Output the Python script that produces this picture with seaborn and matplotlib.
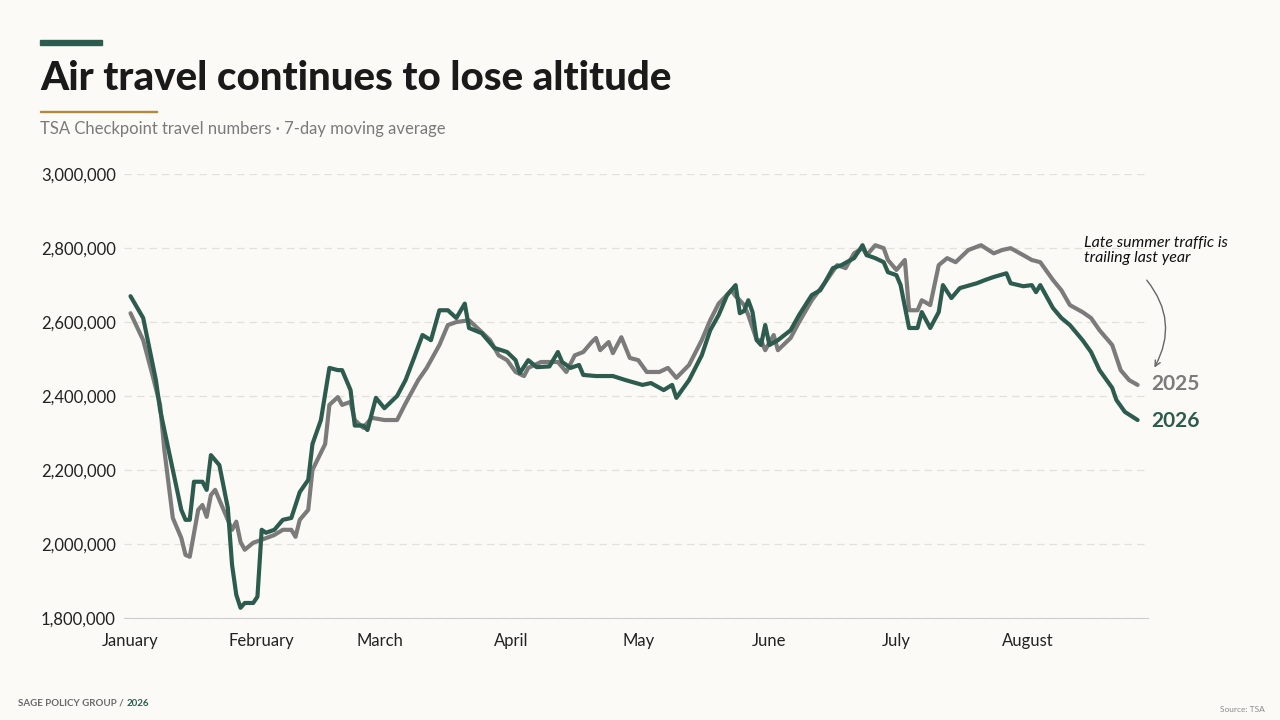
import pandas as pd
import matplotlib.pyplot as plt
import seaborn as sns
from matplotlib.patches import FancyArrowPatch

# days since Jan 1 and 7-day averages (thousands of travelers)
days_2026 = [0, 3, 6, 7, 10, 12, 13, 14, 15, 17, 18, 19, 21, 23, 24, 25, 26, 27, 29, 30,
             31, 32, 34, 36, 38, 40, 42, 43, 45, 47, 49, 50, 52, 53, 55, 56, 58, 60, 63, 65,
             67, 69, 71, 73, 75, 77, 79, 80, 83, 86, 89, 91, 92, 94, 96, 99, 101, 102, 104, 106,
             107, 110, 114, 117, 121, 123, 126, 128, 129, 132, 135, 137, 139, 141, 143, 144, 145, 146, 147, 148,
             149, 150, 151, 153, 156, 158, 161, 163, 164, 166, 168, 171, 173, 174, 176, 178, 179, 181, 182, 184,
             186, 187, 189, 191, 192, 194, 196, 200, 202, 204, 207, 208, 211, 213, 214, 215, 218, 220, 222, 225,
             227, 229, 232, 233, 235, 238]
vals_2026 = [2670, 2611, 2443, 2362, 2200, 2092, 2065, 2065, 2168, 2168, 2146, 2240, 2213, 2097, 1943, 1862, 1827, 1840, 1840, 1857,
             2038, 2030, 2038, 2065, 2070, 2140, 2173, 2270, 2335, 2476, 2470, 2470, 2416, 2320, 2320, 2308, 2395, 2367, 2400, 2443,
             2503, 2565, 2551, 2632, 2632, 2611, 2650, 2584, 2570, 2530, 2519, 2497, 2462, 2497, 2478, 2480, 2519, 2492, 2476, 2484,
             2457, 2454, 2454, 2443, 2430, 2435, 2416, 2430, 2395, 2443, 2510, 2578, 2619, 2673, 2700, 2624, 2630, 2659, 2627, 2551,
             2538, 2592, 2538, 2551, 2578, 2619, 2673, 2686, 2705, 2746, 2754, 2773, 2808, 2781, 2773, 2762, 2735, 2727, 2700, 2584,
             2584, 2627, 2584, 2627, 2700, 2665, 2692, 2705, 2714, 2722, 2732, 2705, 2697, 2700, 2681, 2700, 2638, 2611, 2592, 2551,
             2519, 2470, 2422, 2389, 2357, 2335]

days_2025 = [0, 3, 5, 7, 8, 10, 12, 13, 14, 16, 17, 18, 19, 20, 22, 24, 25, 26, 27, 29,
             31, 34, 36, 38, 39, 40, 42, 43, 46, 47, 49, 50, 52, 53, 55, 57, 60, 63, 65, 68,
             70, 73, 75, 77, 80, 83, 85, 87, 89, 91, 93, 94, 97, 99, 101, 103, 105, 107, 109, 110,
             111, 113, 114, 116, 118, 120, 122, 125, 127, 129, 132, 135, 137, 139, 142, 143, 144, 145, 146, 148,
             149, 150, 152, 153, 156, 158, 161, 164, 167, 169, 171, 173, 174, 176, 178, 179, 181, 183, 184, 186,
             187, 189, 191, 193, 195, 198, 201, 204, 206, 208, 211, 213, 215, 218, 220, 222, 225, 227, 229, 232,
             234, 236, 238]
vals_2025 = [2624, 2551, 2465, 2376, 2254, 2070, 2016, 1970, 1965, 2092, 2105, 2073, 2132, 2146, 2092, 2038, 2060, 2005, 1984, 2003,
             2011, 2024, 2038, 2038, 2019, 2065, 2092, 2200, 2270, 2376, 2397, 2376, 2384, 2335, 2314, 2341, 2335, 2335, 2380, 2443,
             2476, 2538, 2592, 2600, 2605, 2573, 2551, 2510, 2497, 2465, 2454, 2476, 2492, 2492, 2492, 2465, 2510, 2519, 2546, 2557,
             2524, 2546, 2516, 2559, 2503, 2497, 2465, 2465, 2476, 2449, 2484, 2551, 2605, 2650, 2686, 2670, 2659, 2646, 2619, 2551,
             2551, 2524, 2565, 2524, 2557, 2600, 2659, 2705, 2754, 2746, 2786, 2800, 2781, 2808, 2800, 2768, 2741, 2768, 2632, 2632,
             2659, 2646, 2754, 2773, 2762, 2795, 2808, 2786, 2795, 2800, 2781, 2768, 2762, 2714, 2686, 2646, 2627, 2611, 2578, 2538,
             2470, 2443, 2430]

month_names = ['January', 'February', 'March', 'April', 'May', 'June', 'July', 'August']

green = '#2d5c4f'
grey = '#7b7b7b'
bg = '#fbfaf7'

start = pd.Timestamp('2026-01-01')
df = pd.concat([
    pd.DataFrame({'date': start + pd.to_timedelta(days_2026, 'D'), 'travelers': [v * 1000 for v in vals_2026], 'year': '2026'}),
    pd.DataFrame({'date': start + pd.to_timedelta(days_2025, 'D'), 'travelers': [v * 1000 for v in vals_2025], 'year': '2025'}),
])

sns.set_style('white')
plt.rcParams['font.family'] = ['Lato', 'DejaVu Sans']

fig = plt.figure(figsize=(12.8, 7.2), dpi=100, facecolor=bg)
ax = fig.add_axes([0.097, 0.142, 0.800, 0.616], facecolor=bg)

sns.lineplot(data=df, x='date', y='travelers', hue='year', hue_order=['2025', '2026'],
             palette={'2025': grey, '2026': green}, linewidth=3.0, legend=False, ax=ax)

ax.set_ylim(1_800_000, 3_000_000)
ax.set_xlim(start - pd.Timedelta(days=1.5), start + pd.Timedelta(days=240.5))
ax.set_yticks(range(1_800_000, 3_000_001, 200_000))
ax.yaxis.set_major_formatter(plt.FuncFormatter(lambda v, p: f'{v:,.0f}'))
ax.grid(axis='y', linestyle=(0, (6, 4)), color='#e3e1dc', linewidth=0.9)
ax.set_axisbelow(True)
ticks = pd.date_range('2026-01-01', periods=len(month_names), freq='MS')
ax.set_xticks(ticks)
ax.set_xticklabels(month_names)
ax.tick_params(axis='both', length=0, labelsize=12, colors='#222222')
ax.tick_params(axis='x', pad=11)
ax.tick_params(axis='y', pad=6)
for s in ['top', 'right', 'left']:
    ax.spines[s].set_visible(False)
ax.spines['bottom'].set_color('#cfcfcf')
ax.set_xlabel('')
ax.set_ylabel('')

# end labels
last = start + pd.Timedelta(days=238)
ax.annotate('2025', (last, vals_2025[-1] * 1000), xytext=(10, 1), textcoords='offset points',
            color=grey, fontsize=15, fontweight='bold', va='center')
ax.annotate('2026', (last, vals_2026[-1] * 1000), xytext=(10, -1), textcoords='offset points',
            color=green, fontsize=15, fontweight='bold', va='center')

fig.text(0.847, 0.672, 'Late summer traffic is\ntrailing last year', fontsize=11.5,
         style='italic', color='#111111', va='top', linespacing=1.1)
arrow = FancyArrowPatch((1145, 720 - 278), (1153, 720 - 370), transform=None,
                        connectionstyle='arc3,rad=-0.35', arrowstyle='->', mutation_scale=10,
                        color='#666666', lw=1)
fig.patches.append(arrow)

# header
fig.patches.append(plt.Rectangle((40 / 1280, 1 - 45 / 720), 62 / 1280, 5 / 720,
                                 transform=fig.transFigure, color=green))
fig.patches.append(plt.Rectangle((40 / 1280, 1 - 112 / 720), 117 / 1280, 1.5 / 720,
                                 transform=fig.transFigure, color='#b08a3e'))
fig.text(40 / 1280, 1 - 78 / 720, 'Air travel continues to lose altitude', fontsize=29,
         fontweight='black', color='#1a1a1a', va='center')
fig.text(40 / 1280, 1 - 129 / 720, 'TSA Checkpoint travel numbers · 7-day moving average',
         fontsize=12, color='#7a7a7a', va='center')

# footer
fig.text(18 / 1280, 1 - 703 / 720, 'SAGE POLICY GROUP /', fontsize=7, fontweight='bold',
         color='#6a6a6a', va='center')
fig.text(127 / 1280, 1 - 703 / 720, '2026', fontsize=7, fontweight='bold', color=green, va='center')
fig.text(1265 / 1280, 1 - 709 / 720, 'Source: TSA', fontsize=6, color='#8a8a8a', va='center', ha='right')

fig.savefig('out.png', dpi=100, facecolor=bg)
